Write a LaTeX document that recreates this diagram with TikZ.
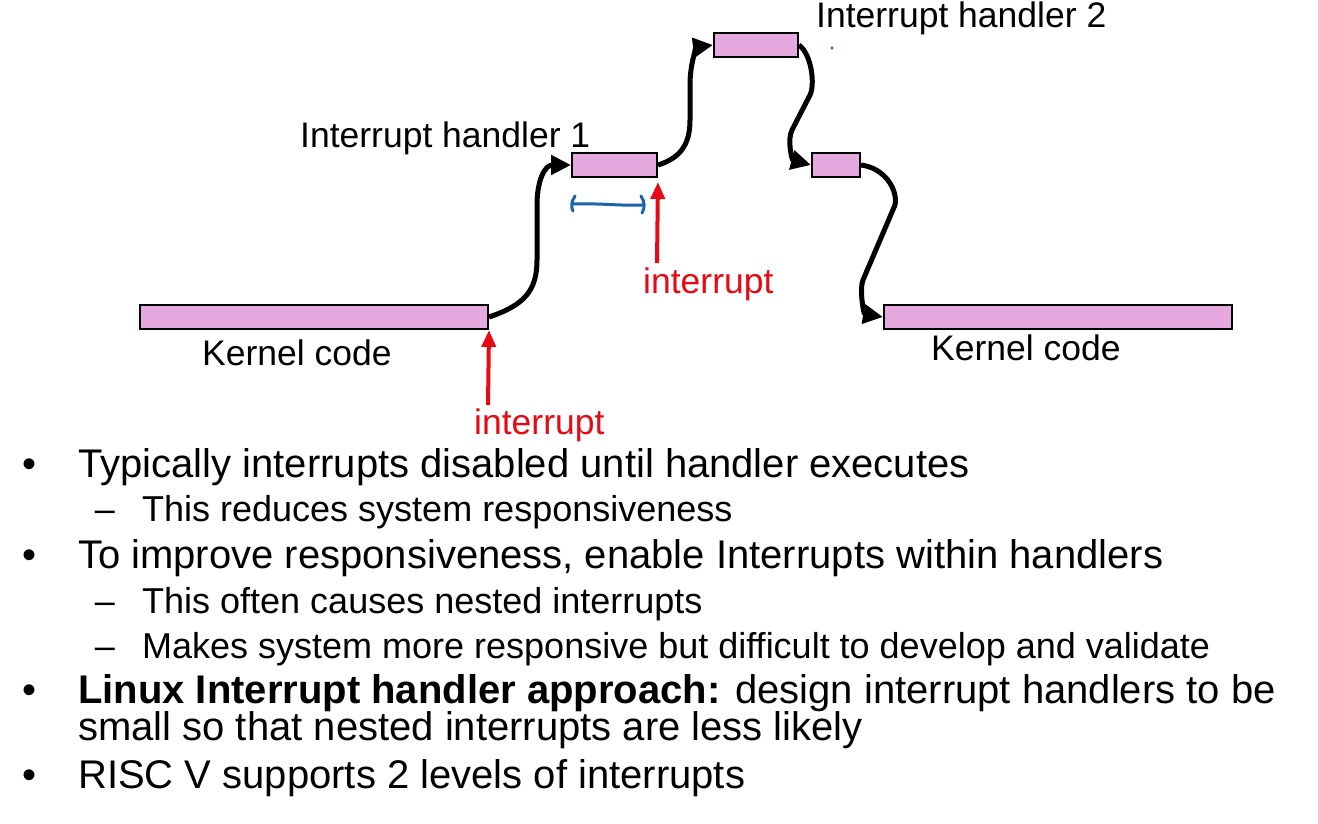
\documentclass[tikz,border=0pt]{standalone}
\usepackage{fontspec}
\setmainfont{Liberation Sans}
\usetikzlibrary{arrows.meta}
\definecolor{codefill}{RGB}{229,169,224}
\definecolor{irqred}{RGB}{230,10,20}
\definecolor{markblue}{RGB}{30,100,170}
\tikzset{
  codebox/.style={draw=black, line width=2pt, fill=codefill, inner sep=0pt, minimum height=24pt},
  flow/.style={line width=5pt, -{Triangle[length=20pt,width=19pt]}},
  irq/.style={draw=irqred, line width=4pt, -{Triangle[length=17pt,width=14pt]}},
  lbl/.style={anchor=base west, inner sep=0pt, font=\fontsize{35.5}{40}\selectfont},
  irqlbl/.style={lbl, text=irqred},
  maintext/.style={anchor=base west, inner sep=0pt, font=\fontsize{40}{44}\selectfont},
  subtext/.style={anchor=base west, inner sep=0pt, font=\fontsize{36}{40}\selectfont},
  bulletmark/.style={anchor=base, inner sep=0pt, font=\fontsize{40}{44}\selectfont},
  dashmark/.style={anchor=base, inner sep=0pt, font=\fontsize{36}{40}\selectfont},
}
\begin{document}
\begin{tikzpicture}[x=1pt,y=-1pt]
\useasboundingbox (0,0) rectangle (1318,823);

% code segments
\node[codebox, minimum width=348pt] (k1) at (314,317) {};
\node[codebox, minimum width=85pt]  (h1) at (614.5,165) {};
\node[codebox, minimum width=84pt]  (h2) at (756,45) {};
\node[codebox, minimum width=48pt]  (h1b) at (836,165) {};
\node[codebox, minimum width=348pt] (k2) at (1058,317) {};

% labels
\node[lbl] (lh1) at (300,147) {Interrupt handler 1};
\node[lbl] (lh2) at (816,27) {Interrupt handler 2};
\node[lbl] (lk1) at (202,365) {Kernel code};
\node[lbl] (lk2) at (931,360) {Kernel code};
\node[irqlbl] (i1) at (474,434) {interrupt};
\node[irqlbl] (i2) at (643,293) {interrupt};

% control flow
\draw[flow] (k1.east) .. controls (525,305) and (537,290) .. (537,260)
  -- (537,205) .. controls (537,180) and (545,165) .. (h1.west);
\draw[flow] (h1.east) .. controls (680,158) and (690,145) .. (690,120)
  -- (690,85) .. controls (690,60) and (698,47) .. (h2.west);
\draw[flow] (h2.east) .. controls (812,55) and (815,85) .. (810,95)
  -- (792,130) .. controls (787,140) and (792,160) .. (h1b.west);
\draw[flow] (h1b.east) .. controls (885,168) and (898,190) .. (895,205)
  -- (863,280) .. controls (859,290) and (864,314) .. (k2.west);

% interrupt arrivals
\coordinate (irq1) at (488,405);
\coordinate (irq2) at (657,263);
\draw[irq] (irq1) -- (k1.south east);
\draw[irq, shorten >=4pt] (irq2) -- (h1.south east);

% span mark under handler 1
\draw[markblue, line width=3pt, line cap=round]
  (575,196) .. controls (571,202) and (571,207) .. (573,211)
  (572,204) .. controls (600,203) and (620,206) .. (643,205)
  (641,196) .. controls (645,202) and (645,208) .. (642,213);
\fill[markblue] (832,48) circle (1.6pt);

% bullet list
\node[bulletmark] (b1) at (30,477) {•};
\node[maintext] (t1) at (78,477) {Typically interrupts disabled until handler executes};
\node[dashmark] (d1) at (105,521) {–};
\node[subtext] (s1) at (142,521) {This reduces system responsiveness};
\node[bulletmark] (b2) at (30,568) {•};
\node[maintext] (t2) at (78,568) {To improve responsiveness, enable Interrupts within handlers};
\node[dashmark] (d2) at (105,613) {–};
\node[subtext] (s2) at (142,613) {This often causes nested interrupts};
\node[dashmark] (d3) at (105,658) {–};
\node[subtext] (s3) at (142,658) {Makes system more responsive but difficult to develop and validate};
\node[bulletmark] (b3) at (30,703) {•};
\node[maintext] (t3) at (78,703) {\textbf{Linux Interrupt handler approach:} design interrupt handlers to be};
\node[maintext] (t3b) at (78,740) {small so that nested interrupts are less likely};
\node[bulletmark] (b4) at (30,788) {•};
\node[maintext] (t4) at (78,788) {RISC V supports 2 levels of interrupts};
\end{tikzpicture}
\end{document}
